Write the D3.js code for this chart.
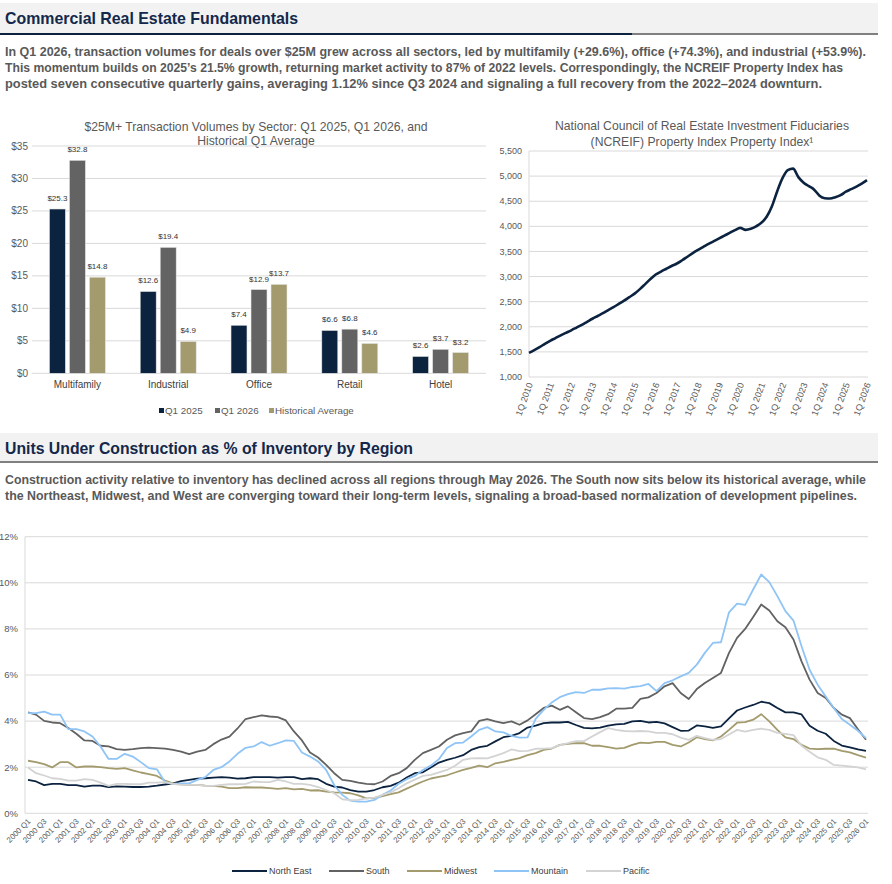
<!DOCTYPE html>
<html>
<head>
<meta charset="utf-8">
<script src="https://cdn.jsdelivr.net/npm/d3@7"></script>
<style>
body { margin: 0; background: #fff; }
svg { display: block; }
text { font-family: Arial, 'Liberation Sans', sans-serif; }
</style>
</head>
<body>
<div id="page"></div>
<script>
// ---- bar chart data ----
var sectors = ['Multifamily', 'Industrial', 'Office', 'Retail', 'Hotel'];
var barSeries = ['Q1 2025', 'Q1 2026', 'Historical Average'];
var q1_2025 = [25.3, 12.6, 7.4, 6.6, 2.6];
var q1_2026 = [32.8, 19.4, 12.9, 6.8, 3.7];
var histAvg = [14.8, 4.9, 13.7, 4.6, 3.2];
var barTicks = [0, 5, 10, 15, 20, 25, 30, 35];

// ---- NCREIF index, quarterly 1Q 2010 - 1Q 2026 ----
var ncreifYears = d3.range(2010, 2027);
var ncreif = [
    1480, 1535, 1595, 1660, 1720, 1775, 1830, 1880, 1930, 1985, 2040, 2100,
    2160, 2215, 2270, 2330, 2390, 2455, 2520, 2590, 2660, 2750, 2850, 2950,
    3040, 3100, 3155, 3210, 3260, 3325, 3395, 3465, 3530, 3590, 3650, 3705,
    3760, 3815, 3870, 3925, 3970, 3930, 3950, 4000, 4070, 4190, 4400, 4700,
    4960, 5120, 5150, 4980, 4870, 4800, 4730, 4610, 4560, 4555, 4580, 4620,
    4690, 4740, 4790, 4850, 4920
];
var ncreifTicks = [1000, 1500, 2000, 2500, 3000, 3500, 4000, 4500, 5000, 5500];

// ---- units under construction, quarterly 2000 Q1 - 2026 Q1 ----
var regions = ['North East', 'South', 'Midwest', 'Mountain', 'Pacific'];
var regionColors = ['#0c2340', '#626262', '#a39b6d', '#8fc4f6', '#d3d3d3'];
var northEast = [
    1.45, 1.38, 1.22, 1.28, 1.28, 1.22, 1.22, 1.16, 1.2, 1.2, 1.14, 1.17, 1.16, 1.14, 1.14, 1.16, 1.2, 1.25, 1.3, 1.4,
    1.45, 1.5, 1.52, 1.55, 1.57, 1.55, 1.5, 1.52, 1.57, 1.57, 1.57, 1.55, 1.57, 1.57,
    1.48, 1.52, 1.48, 1.28, 1.16, 1.12, 1.01, 0.94, 0.94, 1.01, 1.13, 1.19, 1.33, 1.55, 1.74, 1.78, 1.99, 2.2, 2.32, 2.41,
    2.52, 2.75, 2.87, 2.93, 3.12, 3.3, 3.36, 3.48, 3.72, 3.8, 3.91, 3.94, 3.94, 3.97, 3.83,
    3.71, 3.68, 3.72, 3.8, 3.86, 3.88, 3.99, 4.01, 3.94, 3.97, 3.9, 3.74, 3.58, 3.59, 3.81, 3.77, 3.71, 3.77, 4.12, 4.46,
    4.59, 4.7, 4.84, 4.78, 4.57, 4.38, 4.38, 4.29, 3.8, 3.58, 3.45, 3.14, 2.94, 2.86, 2.77, 2.71
];
var south = [
    4.38, 4.28, 4.01, 3.94, 3.91, 3.7, 3.45, 3.16, 3.14, 2.93, 2.9, 2.78, 2.75, 2.78, 2.83, 2.85, 2.83, 2.81, 2.75, 2.68,
    2.57, 2.68, 2.75, 3.0, 3.2, 3.33, 3.68, 4.09, 4.17, 4.25, 4.2, 4.17, 4.03, 3.55,
    3.16, 2.64, 2.42, 2.1, 1.74, 1.45, 1.41, 1.33, 1.28, 1.26, 1.38, 1.62, 1.74, 1.96, 2.32, 2.61, 2.75, 2.9, 3.19, 3.38,
    3.48, 3.55, 4.01, 4.09, 3.99, 3.91, 3.99, 3.84, 4.03, 4.3, 4.57, 4.67, 4.49, 4.64, 4.38,
    4.13, 4.09, 4.17, 4.3, 4.54, 4.54, 4.57, 4.96, 5.03, 5.22, 5.51, 5.65, 5.22, 4.96, 5.39, 5.65, 5.87, 6.09, 6.96, 7.61,
    8.0, 8.52, 9.06, 8.8, 8.33, 8.07, 7.54, 6.59, 5.8, 5.22, 5.0, 4.57, 4.28, 4.13, 3.65, 3.19
];
var midwest = [
    2.28, 2.22, 2.13, 1.99, 2.22, 2.22, 1.99, 2.03, 2.03, 2.0, 1.96, 1.93, 1.96, 1.86, 1.77, 1.7, 1.62, 1.42, 1.3, 1.26,
    1.23, 1.23, 1.2, 1.19, 1.16, 1.09, 1.09, 1.13, 1.12, 1.12, 1.09, 1.06, 1.09, 1.04,
    1.06, 0.99, 1.0, 0.94, 0.91, 0.9, 0.87, 0.78, 0.65, 0.67, 0.75, 0.83, 0.91, 1.07, 1.23, 1.38, 1.51, 1.58, 1.65, 1.77,
    1.88, 1.97, 2.07, 2.0, 2.17, 2.23, 2.32, 2.39, 2.52, 2.61, 2.75, 2.81, 2.97, 3.01, 3.04,
    3.04, 2.93, 2.93, 2.87, 2.81, 2.84, 2.97, 3.07, 3.04, 3.1, 3.1, 2.97, 2.9, 3.07, 3.3, 3.22, 3.16, 3.33, 3.62, 3.93,
    3.96, 4.06, 4.3, 3.99, 3.62, 3.29, 3.22, 2.97, 2.81, 2.78, 2.8, 2.81, 2.71, 2.64, 2.52, 2.42
];
var mountain = [
    4.35, 4.35, 4.41, 4.28, 4.28, 3.65, 3.65, 3.55, 3.33, 2.9, 2.36, 2.36, 2.58, 2.46, 2.22, 1.96, 1.91, 1.35, 1.28, 1.3,
    1.3, 1.45, 1.57, 1.88, 2.0, 2.25, 2.58, 2.84, 2.9, 3.09, 2.93, 3.04, 3.16, 3.14,
    2.64, 2.46, 2.25, 1.88, 1.23, 0.8, 0.55, 0.51, 0.51, 0.58, 0.8, 0.99, 1.28, 1.48, 1.62, 1.88, 2.07, 2.35, 2.83, 3.04,
    3.07, 3.33, 3.62, 3.74, 3.55, 3.51, 3.36, 3.28, 3.29, 4.1, 4.49, 4.81, 5.04, 5.17, 5.26,
    5.22, 5.36, 5.36, 5.42, 5.43, 5.41, 5.48, 5.52, 5.61, 5.3, 5.65, 5.77, 5.94, 6.09, 6.45, 6.96, 7.39, 7.42, 8.72, 9.1,
    9.04, 9.71, 10.36, 10.03, 9.42, 8.77, 8.36, 7.25, 6.23, 5.58, 5.07, 4.57, 4.09, 3.84, 3.58, 3.26
];
var pacific = [
    1.99, 1.74, 1.64, 1.52, 1.49, 1.42, 1.42, 1.48, 1.45, 1.33, 1.19, 1.28, 1.28, 1.26, 1.26, 1.33, 1.33, 1.35, 1.28, 1.23,
    1.23, 1.23, 1.2, 1.19, 1.23, 1.26, 1.26, 1.28, 1.38, 1.35, 1.35, 1.45, 1.38, 1.28,
    1.28, 1.23, 1.14, 1.01, 0.87, 0.61, 0.57, 0.58, 0.65, 0.68, 0.8, 0.91, 1.09, 1.3, 1.46, 1.62, 1.67, 1.78, 1.88, 2.06,
    2.32, 2.38, 2.39, 2.38, 2.49, 2.61, 2.77, 2.7, 2.71, 2.8, 2.81, 2.83, 2.96, 3.04, 3.13,
    3.13, 3.33, 3.52, 3.7, 3.62, 3.57, 3.55, 3.57, 3.55, 3.49, 3.49, 3.43, 3.28, 3.19, 3.36, 3.26, 3.19, 3.22, 3.42, 3.62,
    3.54, 3.62, 3.67, 3.62, 3.49, 3.45, 3.39, 2.93, 2.67, 2.43, 2.32, 2.1, 2.07, 2.03, 1.99, 1.91
];
var constTicks = [0, 2, 4, 6, 8, 10, 12];

// quarter labels 2000 Q1 .. 2026 Q1
var quarters = [];
for (var yr = 2000; yr <= 2026; yr++) {
    for (var q = 1; q <= 4; q++) {
        if (yr === 2026 && q > 1) break;
        quarters.push(yr + ' Q' + q);
    }
}

var NARROW = "'Liberation Sans Narrow','Arial Narrow',Arial,'Liberation Sans',sans-serif";
var GRID = '#d9d9d9';
var LABEL = '#595959';

var svg = d3.select('#page').append('svg')
    .attr('width', 892)
    .attr('height', 884);

// squeeze a text element to a fixed width (original uses a narrow face)
function fitText(sel, w) {
    sel.attr('textLength', w).attr('lengthAdjust', 'spacingAndGlyphs');
}

/**
 * section header band with title and underline
 */
function drawHeader(y0, y1, title, titleW, navyTo) {
    svg.append('rect')
        .attr('x', 0).attr('y', y0)
        .attr('width', 878).attr('height', y1 - y0)
        .attr('fill', '#f2f2f2');
    svg.append('text')
        .attr('x', 5).attr('y', y0 + 21)
        .style('font-family', NARROW)
        .style('font-size', '17px')
        .style('font-weight', 'bold')
        .attr('fill', '#13284a')
        .text(title)
        .call(fitText, titleW);
    if (navyTo > 0) {
        svg.append('rect').attr('x', 0).attr('y', y1).attr('width', navyTo).attr('height', 2).attr('fill', '#0c2340');
    }
    svg.append('rect').attr('x', navyTo).attr('y', y1).attr('width', 878 - navyTo).attr('height', 2).attr('fill', '#808080');
}

function drawParagraph(lines, y0) {
    lines.forEach(function (l, i) {
        svg.append('text')
            .attr('x', 5).attr('y', y0 + i * 16)
            .style('font-family', NARROW)
            .style('font-size', '12.5px')
            .style('font-weight', 'bold')
            .attr('fill', '#595959')
            .text(l.t)
            .call(fitText, l.w);
    });
}

drawHeader(3, 33, 'Commercial Real Estate Fundamentals', 293, 632);
drawParagraph([
    { t: 'In Q1 2026, transaction volumes for deals over $25M grew across all sectors, led by multifamily (+29.6%), office (+74.3%), and industrial (+53.9%).', w: 861 },
    { t: 'This momentum builds on 2025\u2019s 21.5% growth, returning market activity to 87% of 2022 levels. Correspondingly, the NCREIF Property Index has', w: 838 },
    { t: 'posted seven consecutive quarterly gains, averaging 1.12% since Q3 2024 and signaling a full recovery from the 2022\u20132024 downturn.', w: 817 }
], 55.5);

drawHeader(433, 461, 'Units Under Construction as % of Inventory by Region', 408, 0);
drawParagraph([
    { t: 'Construction activity relative to inventory has declined across all regions through May 2026. The South now sits below its historical average, while', w: 861 },
    { t: 'the Northeast, Midwest, and West are converging toward their long-term levels, signaling a broad-based normalization of development pipelines.', w: 852 }
], 483.5);

// ================= bar chart =================
(function drawBars() {
    var barColors = d3.scaleOrdinal().domain(barSeries).range(['#0c2340', '#636363', '#a39b6d']);
    var values = [q1_2025, q1_2026, histAvg];
    var x0 = d3.scaleBand().domain(sectors).range([32, 486]);
    var x1 = d3.scaleBand().domain(barSeries).range([-28, 28]).paddingInner(0.2);
    var y = d3.scaleLinear().domain([0, 35]).range([373.3, 146]);
    var g = svg.append('g');

    [['$25M+ Transaction Volumes by Sector: Q1 2025, Q1 2026, and', 131], ['Historical Q1 Average', 144.5]].forEach(function (t) {
        g.append('text').attr('x', 256).attr('y', t[1])
            .attr('text-anchor', 'middle').style('font-size', '12.2px').attr('fill', LABEL).text(t[0]);
    });

    g.selectAll('.grid').data(barTicks).enter().append('line')
        .attr('x1', 32).attr('x2', 486)
        .attr('y1', function (d) { return y(d); }).attr('y2', function (d) { return y(d); })
        .attr('stroke', GRID).attr('stroke-width', 1);
    g.selectAll('.ylab').data(barTicks).enter().append('text')
        .attr('x', 28).attr('y', function (d) { return y(d); }).attr('dy', '0.35em')
        .attr('text-anchor', 'end').style('font-size', '10px').attr('fill', LABEL)
        .text(function (d) { return '$' + d; });

    var rows = [];
    sectors.forEach(function (s, i) {
        barSeries.forEach(function (k, j) {
            rows.push({ sector: s, series: k, v: values[j][i] });
        });
    });
    var bars = g.selectAll('.bar').data(rows).enter().append('g')
        .attr('transform', function (d) { return 'translate(' + (x0(d.sector) + x0.bandwidth() / 2) + ',0)'; });
    bars.append('rect')
        .attr('x', function (d) { return x1(d.series); })
        .attr('width', x1.bandwidth())
        .attr('y', function (d) { return y(d.v); })
        .attr('height', function (d) { return y(0) - y(d.v); })
        .attr('fill', function (d) { return barColors(d.series); })
        .attr('stroke', '#e6e6e6').attr('stroke-width', 0.6);
    bars.append('text')
        .attr('x', function (d) { return x1(d.series) + x1.bandwidth() / 2; })
        .attr('y', function (d) { return y(d.v) - 8; })
        .attr('text-anchor', 'middle').style('font-size', '8px').attr('fill', '#333333')
        .text(function (d) { return '$' + d.v.toFixed(1); });

    g.selectAll('.xlab').data(sectors).enter().append('text')
        .attr('x', function (d) { return x0(d) + x0.bandwidth() / 2; }).attr('y', 387.5)
        .attr('text-anchor', 'middle').style('font-size', '10px').attr('fill', '#404040')
        .text(function (d) { return d; });

    var legX = [159, 215, 269];
    barSeries.forEach(function (k, j) {
        g.append('rect').attr('x', legX[j]).attr('y', 408).attr('width', 5).attr('height', 5).attr('fill', barColors(k));
        g.append('text').attr('x', legX[j] + 6).attr('y', 414).style('font-size', '9.8px').attr('fill', LABEL).text(k);
    });
})();

// ================= NCREIF line =================
(function drawNcreif() {
    var x = d3.scalePoint().domain(d3.range(ncreif.length)).range([529, 867]);
    var y = d3.scaleLinear().domain([1000, 5500]).range([377, 151]);
    var g = svg.append('g');

    [['National Council of Real Estate Investment Fiduciaries', 130], ['(NCREIF) Property Index Property Index\u00b9', 146]].forEach(function (t) {
        g.append('text').attr('x', 702).attr('y', t[1])
            .attr('text-anchor', 'middle').style('font-size', '12.2px').attr('fill', LABEL).text(t[0]);
    });

    g.selectAll('.grid').data(ncreifTicks).enter().append('line')
        .attr('x1', 529).attr('x2', 868)
        .attr('y1', function (d) { return y(d); }).attr('y2', function (d) { return y(d); })
        .attr('stroke', GRID);
    g.append('line').attr('x1', 529).attr('x2', 529).attr('y1', y(5500)).attr('y2', y(1000)).attr('stroke', GRID);
    g.selectAll('.ylab').data(ncreifTicks).enter().append('text')
        .attr('x', 522).attr('y', function (d) { return y(d); }).attr('dy', '0.35em')
        .attr('text-anchor', 'end').style('font-size', '9px').attr('fill', LABEL)
        .text(d3.format(','));

    g.selectAll('.xlab').data(ncreifYears).enter().append('text')
        .attr('transform', function (d, i) { return 'translate(' + (x(i * 4) + 4) + ',384) rotate(-70)'; })
        .attr('text-anchor', 'end').style('font-size', '9px').attr('fill', LABEL)
        .text(function (d) { return '1Q ' + d; });

    var line = d3.line()
        .x(function (d, i) { return x(i); })
        .y(function (d) { return y(d); })
        .curve(d3.curveMonotoneX);
    g.append('path').datum(ncreif)
        .attr('d', line)
        .attr('fill', 'none').attr('stroke', '#0c2340').attr('stroke-width', 2.6)
        .attr('stroke-linejoin', 'round');
})();

// ================= construction share by region =================
(function drawRegions() {
    var series = [northEast, south, midwest, mountain, pacific];
    var color = d3.scaleOrdinal().domain(regions).range(regionColors);
    var x = d3.scalePoint().domain(d3.range(quarters.length)).range([28, 866]);
    var y = d3.scaleLinear().domain([0, 12]).range([813.3, 536.7]);
    var g = svg.append('g');

    g.selectAll('.grid').data(constTicks).enter().append('line')
        .attr('x1', 25).attr('x2', 868)
        .attr('y1', function (d) { return y(d); }).attr('y2', function (d) { return y(d); })
        .attr('stroke', GRID);
    g.append('line').attr('x1', 25).attr('x2', 25).attr('y1', y(12)).attr('y2', y(0)).attr('stroke', GRID);
    g.selectAll('.ylab').data(constTicks).enter().append('text')
        .attr('x', 18).attr('y', function (d) { return y(d); }).attr('dy', '0.35em')
        .attr('text-anchor', 'end').style('font-size', '9.5px').attr('fill', LABEL)
        .text(function (d) { return d + '%'; });

    g.selectAll('.xlab').data(quarters.filter(function (d, i) { return i % 2 === 0; })).enter().append('text')
        .attr('transform', function (d, i) { return 'translate(' + (x(i * 2) + 3) + ',822) rotate(-45)'; })
        .attr('text-anchor', 'end').style('font-size', '7.8px').attr('fill', LABEL)
        .text(function (d) { return d; });

    var line = d3.line()
        .x(function (d, i) { return x(i); })
        .y(function (d) { return y(d); });
    regions.forEach(function (r, k) {
        g.append('path').datum(series[k])
            .attr('d', line)
            .attr('fill', 'none').attr('stroke', color(r)).attr('stroke-width', 1.8)
            .attr('stroke-linejoin', 'round');
    });

    var legX = [232, 329, 407, 494, 586];
    regions.forEach(function (r, k) {
        g.append('line').attr('x1', legX[k]).attr('x2', legX[k] + 35).attr('y1', 871).attr('y2', 871)
            .attr('stroke', color(r)).attr('stroke-width', 2.2);
        g.append('text').attr('x', legX[k] + 37).attr('y', 874).style('font-size', '9px').attr('fill', '#404040').text(r);
    });
})();
</script>
</body>
</html>
